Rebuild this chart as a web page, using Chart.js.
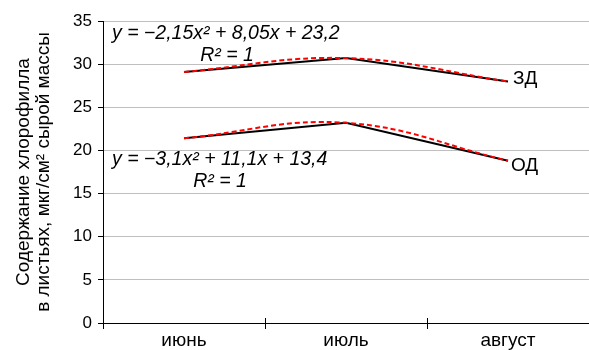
<!DOCTYPE html>
<html>
<head>
<meta charset="utf-8">
<script src="https://cdn.jsdelivr.net/npm/chart.js@4"></script>
<style>
html,body{margin:0;padding:0;background:#fff;}
#wrap{width:589px;height:350px;position:relative;}
</style>
</head>
<body>
<div id="wrap"><canvas id="chart"></canvas></div>
<script>
var months = ['июнь', 'июль', 'август'];
var zdValues = [29.1, 30.7, 28.0];
var odValues = [21.4, 23.2, 18.8];
var seriesNames = ['ЗД', 'ОД'];
var zdEquation = ['y = −2,15x² + 8,05x + 23,2', 'R² = 1'];
var odEquation = ['y = −3,1x² + 11,1x + 13,4', 'R² = 1'];
var yTitle = ['Содержание хлорофилла', 'в листьях, мкг/см² сырой массы'];

var FONT = 'Arial, "Liberation Sans", sans-serif';

// подписи: уравнения трендов и названия рядов
var textPlugin = {
    id: 'texts',
    afterDatasetsDraw: function(chart){
        var ctx = chart.ctx;
        ctx.save();
        ctx.fillStyle = '#000';
        ctx.textBaseline = 'middle';

        ctx.font = 'italic 19.5px ' + FONT;
        ctx.textAlign = 'left';
        ctx.fillText(zdEquation[0], 112, 34);
        ctx.fillText(odEquation[0], 112, 160);
        ctx.textAlign = 'center';
        ctx.fillText(zdEquation[1], 227, 56);
        ctx.fillText(odEquation[1], 220, 182);

        ctx.font = '19px ' + FONT;
        ctx.textAlign = 'left';
        var m1 = chart.getDatasetMeta(2).data;
        var m2 = chart.getDatasetMeta(3).data;
        var p1 = m1[m1.length - 1], p2 = m2[m2.length - 1];
        ctx.fillText(seriesNames[0], p1.x + 5, p1.y - 3);
        ctx.fillText(seriesNames[1], p2.x + 3, p2.y + 5);

        // засечки оси X заходят и внутрь области
        var xs = chart.scales.x, y0 = chart.chartArea.bottom;
        ctx.strokeStyle = '#000';
        ctx.lineWidth = 1;
        ctx.beginPath();
        for (var i = 1; i < months.length; i++) {
            var px = Math.round((xs.getPixelForValue(i - 1) + xs.getPixelForValue(i)) / 2) + 0.5;
            ctx.moveTo(px, y0 - 5);
            ctx.lineTo(px, y0);
        }
        ctx.stroke();
        ctx.restore();
    }
};

var ctx = document.getElementById('chart');
var chart = new Chart(ctx, {
    type: 'line',
    data: {
        labels: months,
        datasets: [
            {
                label: 'тренд ' + seriesNames[0],
                data: zdValues,
                borderColor: '#ff0000',
                borderWidth: 2,
                borderDash: [5, 3],
                tension: 0.4,
                pointRadius: 0,
                fill: false
            },
            {
                label: 'тренд ' + seriesNames[1],
                data: odValues,
                borderColor: '#ff0000',
                borderWidth: 2,
                borderDash: [5, 3],
                tension: 0.4,
                pointRadius: 0,
                fill: false
            },
            {
                label: seriesNames[0],
                data: zdValues,
                borderColor: '#000',
                borderWidth: 2,
                tension: 0,
                pointRadius: 0,
                fill: false
            },
            {
                label: seriesNames[1],
                data: odValues,
                borderColor: '#000',
                borderWidth: 2,
                tension: 0,
                pointRadius: 0,
                fill: false
            }
        ]
    },
    options: {
        responsive: true,
        maintainAspectRatio: false,
        animation: false,
        layout: {padding: {top: 21, right: 0, left: 0, bottom: 0}},
        plugins: {
            legend: {display: false},
            tooltip: {enabled: false}
        },
        scales: {
            x: {
                offset: true,
                grid: {
                    offset: true,
                    drawOnChartArea: false,
                    tickColor: '#000',
                    tickLength: 6
                },
                border: {color: '#000', width: 1},
                ticks: {
                    color: '#000',
                    font: {size: 19, family: FONT},
                    padding: 0
                },
                afterFit: function(scale){ scale.height = 27; }
            },
            y: {
                min: 0,
                max: 35,
                ticks: {
                    stepSize: 5,
                    color: '#000',
                    font: {size: 17, family: FONT},
                    padding: 6
                },
                grid: {
                    color: '#bfbfbf',
                    tickColor: '#000',
                    tickLength: 5
                },
                border: {color: '#000', width: 1},
                title: {
                    display: true,
                    text: yTitle,
                    color: '#000',
                    font: {size: 19, family: FONT, lineHeight: 1.05},
                    padding: {top: 14, bottom: 0}
                },
                afterFit: function(scale){ scale.width = 103; }
            }
        }
    },
    plugins: [textPlugin]
});
</script>
</body>
</html>
